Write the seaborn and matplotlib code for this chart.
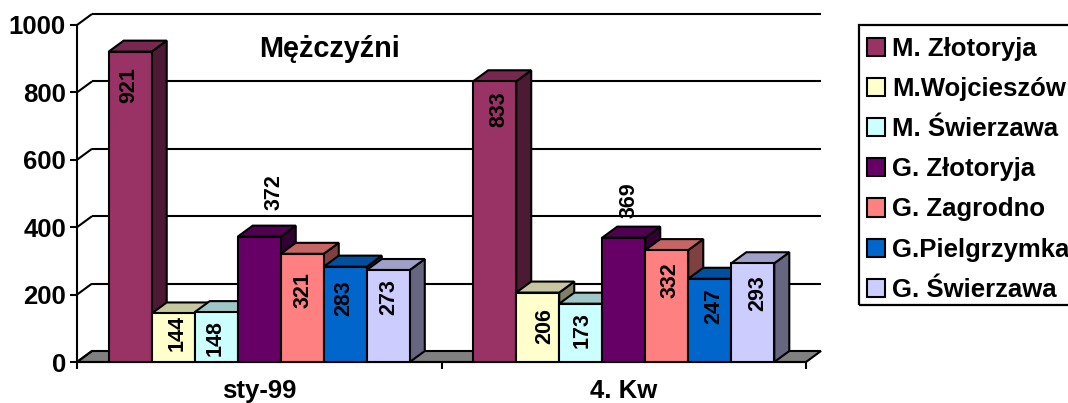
import pandas as pd
import matplotlib.pyplot as plt
import matplotlib.colors as mcolors
from matplotlib.patches import Polygon, Rectangle
import seaborn as sns

# Values
categories = ['sty-99', '4. Kw']
series = ['M. Złotoryja', 'M.Wojcieszów', 'M. Świerzawa', 'G. Złotoryja',
          'G. Zagrodno', 'G.Pielgrzymka', 'G. Świerzawa']
values_sty = [921, 144, 148, 372, 321, 283, 273]
values_kw = [833, 206, 173, 369, 332, 247, 293]
y_ticks = [0, 200, 400, 600, 800, 1000]
colors = ['#993366', '#FFFFCC', '#CCFFFF', '#660066', '#FF8080', '#0066CC', '#CCCCFF']

rows = []
for cat, vals in zip(categories, [values_sty, values_kw]):
    for name, val in zip(series, vals):
        rows.append({'cat': cat, 'series': name, 'val': val})
data = pd.DataFrame(rows)

sns.set_theme(style='white')
plt.rcParams['font.family'] = ['Liberation Sans', 'DejaVu Sans']
plt.rcParams['font.weight'] = 'bold'

W, H = 1068, 403
LW = 1.5
fig = plt.figure(figsize=(W / 100, H / 100), dpi=100)
ax = fig.add_axes([77 / W, (H - 362) / H, (806 - 77) / W, (362 - 25) / H])

sns.barplot(data=data, x='cat', y='val', hue='series', order=categories, hue_order=series,
            palette=colors, saturation=1, width=0.826, gap=0, dodge=True,
            edgecolor='black', linewidth=LW, ax=ax)
ax.set_xlim(-0.5, 1.5)
ax.set_ylim(0, 1000)

# 3D depth of the chart box, 15px right and 11px up
dx = 15 / (729 / 2)
dy = 11 / (337 / 1000)
line_kw = dict(color='black', lw=LW, clip_on=False, solid_capstyle='butt')

# floor
ax.add_patch(Polygon([(-0.5, 0), (1.5, 0), (1.5 + dx, dy), (-0.5 + dx, dy)], closed=True,
                     facecolor='#808080', edgecolor='black', lw=LW, clip_on=False, zorder=1))
# back wall grid and left wall diagonals
for t in y_ticks[1:]:
    ax.plot([-0.5 + dx, 1.5 + dx], [t + dy, t + dy], zorder=1, **line_kw)
for t in y_ticks:
    ax.plot([-0.5, -0.5 + dx], [t, t + dy], zorder=1, **line_kw)

# side and top faces, bars drawn left to right so the next one covers the last
for i, cont in enumerate(ax.containers):
    base = mcolors.to_rgb(colors[i])
    top_col = tuple(c * 0.78 for c in base)
    side_col = tuple(c * 0.5 for c in base)
    for bar in cont:
        x0 = bar.get_x()
        x1 = x0 + bar.get_width()
        h = bar.get_height()
        z = 3 + i
        ax.add_patch(Polygon([(x1, 0), (x1 + dx, dy), (x1 + dx, h + dy), (x1, h)], closed=True,
                             facecolor=side_col, edgecolor='black', lw=LW, clip_on=False, zorder=z))
        ax.add_patch(Polygon([(x0, h), (x0 + dx, h + dy), (x1 + dx, h + dy), (x1, h)], closed=True,
                             facecolor=top_col, edgecolor='black', lw=LW, clip_on=False, zorder=z))
        bar.set_zorder(z + 0.5)

# label nudges in px from bar centre and bar top, the original places them unevenly
label_dx = [[-1.5, 3.5, -1.5, 14.5, 0.5, -1.5, 0.5], [4, 7, 1, 5, 3, 4, 5]]
label_dy = [[33, 20, 26, -45, 36, 31, 27], [28, 33, 26, -37, 30, 27, 30]]
for i, cont in enumerate(ax.containers):
    for j, bar in enumerate(cont):
        ax.annotate(str(int(bar.get_height())),
                    (bar.get_x() + bar.get_width() / 2, bar.get_height()),
                    xytext=(label_dx[j][i] * 0.72, -label_dy[j][i] * 0.72),
                    textcoords='offset points', rotation=90, ha='center', va='center',
                    fontsize=15.5, fontweight='bold', color='black', zorder=20,
                    annotation_clip=False)

ax.text(0.194, 928, 'Mężczyźni', ha='center', va='center', fontsize=20.8, fontweight='bold',
        color='black', zorder=20)

# axes
sns.despine(ax=ax)
for s in ['left', 'bottom']:
    ax.spines[s].set_linewidth(LW)
    ax.spines[s].set_color('black')
    ax.spines[s].set_zorder(2.5)
ax.set_xlabel('')
ax.set_ylabel('')
ax.set_yticks(y_ticks)
ax.tick_params(axis='y', left=True, length=5, width=LW, color='black', pad=3,
               labelsize=18.5, labelcolor='black')
ax.set_xticks([-0.5, 0.5, 1.5], minor=True)
ax.set_xticks([0, 1], categories)
ax.tick_params(axis='x', which='minor', bottom=True, length=5, width=LW, color='black')
ax.tick_params(axis='x', which='major', bottom=False, pad=6, labelsize=18.5, labelcolor='black')

# legend box runs off the right edge like the original
fig.add_artist(Rectangle((859 / W, (H - 305) / H), 220 / W, 280 / H, transform=fig.transFigure,
                         fill=False, edgecolor='black', lw=1.6))
sns.move_legend(ax, 'upper left', bbox_to_anchor=(859 / W, (H - 29) / H),
                bbox_transform=fig.transFigure, title=None, frameon=False,
                borderaxespad=0, borderpad=0.3, fontsize=18.5,
                handlelength=0.72, handleheight=0.72, handletextpad=0.28, labelspacing=0.63)
leg = ax.get_legend()
leg.set_zorder(30)
for txt in leg.get_texts():
    txt.set_color('black')
    txt.set_fontweight('bold')

fig.savefig('out.png', dpi=100, facecolor='white')
